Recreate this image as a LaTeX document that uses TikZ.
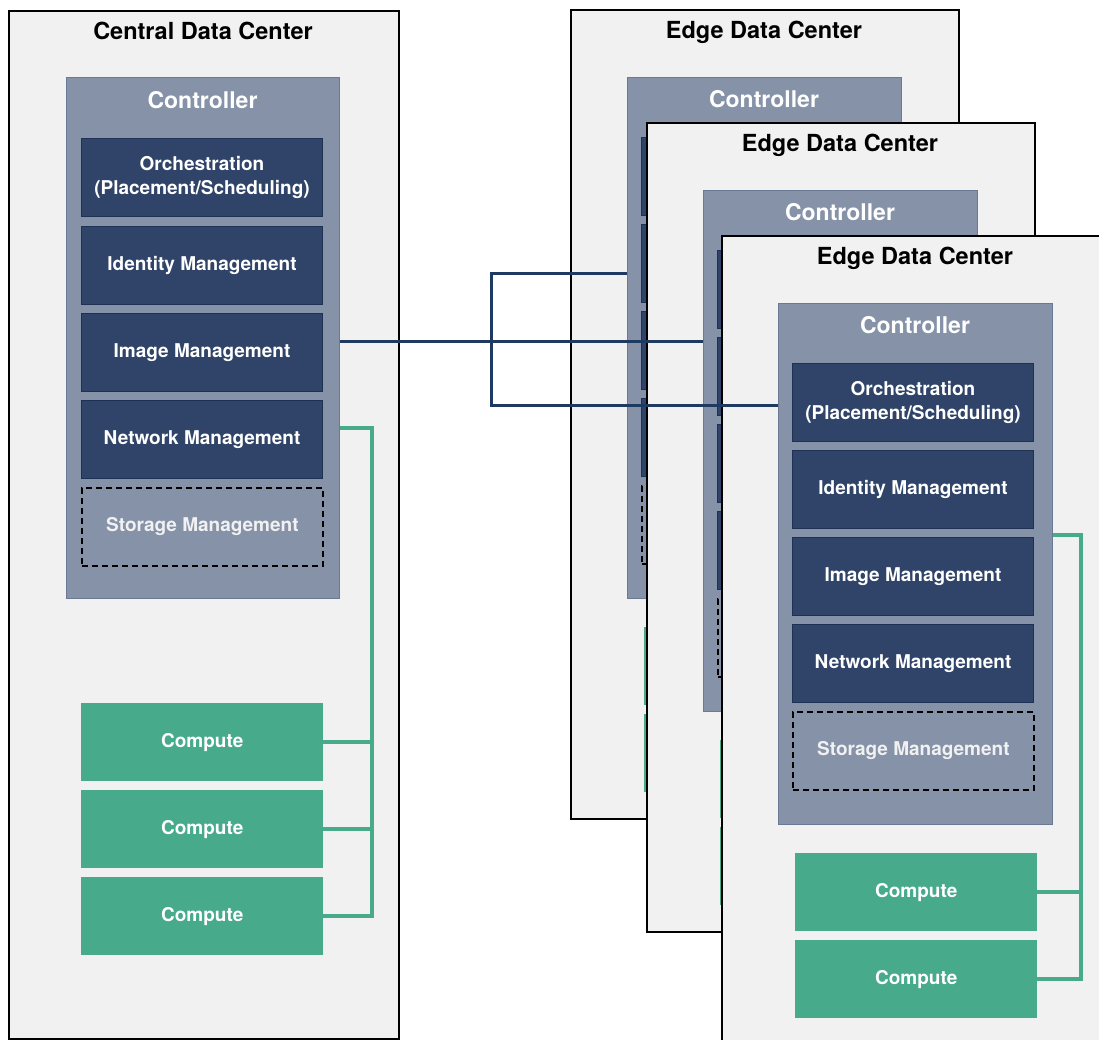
\documentclass[tikz,border=0pt]{standalone}
\usepackage{fontspec}
\setmainfont{TeX Gyre Heros}
\definecolor{dcGray}{HTML}{F1F1F1}
\definecolor{ctrlSlate}{HTML}{8592A8}
\definecolor{ctrlEdge}{HTML}{6B7A94}
\definecolor{mgmtNavy}{HTML}{2F4468}
\definecolor{mgmtEdge}{HTML}{1E3152}
\definecolor{computeGreen}{HTML}{47AA8A}
\definecolor{linkNavy}{HTML}{1F3A60}
\usepackage{tikz}
\usetikzlibrary{calc,positioning}

\begin{document}
\begin{tikzpicture}[x=1pt, y=-1pt,
  dcbox/.style={draw=black, fill=dcGray, line width=1.8pt, anchor=north west, minimum width=388pt, minimum height=809pt},
  dctitle/.style={anchor=base, font=\fontsize{23.5}{27}\selectfont\bfseries},
  ctrlbox/.style={draw=ctrlEdge, fill=ctrlSlate, line width=1pt, anchor=north west, minimum width=273pt, minimum height=521pt},
  ctrltitle/.style={text=white, font=\fontsize{23}{27}\selectfont\bfseries},
  mgmtbox/.style={draw=mgmtEdge, fill=mgmtNavy, line width=1pt, anchor=north west, minimum width=241pt, minimum height=78pt,
    text=white, align=center, font=\fontsize{19}{24}\selectfont\bfseries},
  storebox/.style={mgmtbox, draw=black, fill=ctrlSlate, dashed, dash pattern=on 6pt off 4pt, line width=1.8pt, text=dcGray},
  computebox/.style={fill=computeGreen, anchor=north west, minimum width=242pt, minimum height=78pt,
    text=white, font=\fontsize{19}{24}\selectfont\bfseries},
  navylink/.style={draw=linkNavy, line width=3pt},
  greenlink/.style={draw=computeGreen, line width=3.5pt}]
  \clip (0,0) rectangle (1099,1040);
  \fill[white] (0,0) rectangle (1099,1040);

  % central data center
  \node[dcbox, minimum width=390pt, minimum height=1028pt] (c-dc) at (8,10) {};
  \node[dctitle] (c-title) at (203,40) {Central Data Center};
  \node[ctrlbox] (c-ctrl) at (66,77) {};
  \node[ctrltitle] (c-ctrltitle) at (202.5,100) {Controller};
  \node[mgmtbox] (c-orch) at (81,138) {Orchestration\\(Placement/Scheduling)};
  \node[mgmtbox] (c-ident) at (81,226) {Identity Management};
  \node[mgmtbox] (c-image) at (81,313) {Image Management};
  \node[mgmtbox] (c-net) at (81,400) {Network Management};
  \node[storebox] (c-store) at (81,487) {Storage Management};
  \node[computebox] (c-comp1) at (81,703) {Compute};
  \node[computebox] (c-comp2) at (81,790) {Compute};
  \node[computebox] (c-comp3) at (81,877) {Compute};
  \coordinate (c-bus) at (372,428);
  \draw[greenlink] (c-bus -| c-ctrl.east) -- (c-bus) |- (c-comp3.east);
  \draw[greenlink] (c-comp1.east) -- (c-comp1.east -| c-bus);
  \draw[greenlink] (c-comp2.east) -- (c-comp2.east -| c-bus);

  % edge data center 1 (mostly hidden)
  \begin{scope}[shift={(570,9)}]
    \node[dcbox] (e1-dc) at (0,0) {};
    \node[dctitle] (e1-title) at (194,30) {Edge Data Center};
    \node[ctrlbox, minimum width=274pt] (e1-ctrl) at (57,68) {};
    \node[ctrltitle] (e1-ctrltitle) at (194,90) {Controller};
    \node[mgmtbox] (e1-orch) at (71,128) {};
    \node[mgmtbox] (e1-ident) at (71,215) {};
    \node[mgmtbox] (e1-image) at (71,302) {};
    \node[mgmtbox] (e1-net) at (71,389) {};
    \node[storebox] (e1-store) at (71,476) {};
    \node[computebox] (e1-comp1) at (74,618) {};
    \node[computebox] (e1-comp2) at (74,705) {};
  \end{scope}

  % edge data center 2 (mostly hidden)
  \begin{scope}[shift={(646,122)}]
    \node[dcbox] (e2-dc) at (0,0) {};
    \node[dctitle] (e2-title) at (194,30) {Edge Data Center};
    \node[ctrlbox, minimum width=274pt] (e2-ctrl) at (57,68) {};
    \node[ctrltitle] (e2-ctrltitle) at (194,90) {Controller};
    \node[mgmtbox] (e2-orch) at (71,128) {};
    \node[mgmtbox] (e2-ident) at (71,215) {};
    \node[mgmtbox] (e2-image) at (71,302) {};
    \node[mgmtbox] (e2-net) at (71,389) {};
    \node[storebox] (e2-store) at (71,476) {};
    \node[computebox] (e2-comp1) at (74,618) {};
    \node[computebox] (e2-comp2) at (74,705) {};
  \end{scope}

  % edge data center 3
  \begin{scope}[shift={(721,235)}]
    \node[dcbox] (e3-dc) at (0,0) {};
    \node[dctitle] (e3-title) at (194,30) {Edge Data Center};
    \node[ctrlbox, minimum width=274pt] (e3-ctrl) at (57,68) {};
    \node[ctrltitle] (e3-ctrltitle) at (194,90) {Controller};
    \node[mgmtbox] (e3-orch) at (71,128) {Orchestration\\(Placement/Scheduling)};
    \node[mgmtbox] (e3-ident) at (71,215) {Identity Management};
    \node[mgmtbox] (e3-image) at (71,302) {Image Management};
    \node[mgmtbox] (e3-net) at (71,389) {Network Management};
    \node[storebox] (e3-store) at (71,476) {Storage Management};
    \node[computebox] (e3-comp1) at (74,618) {Compute};
    \node[computebox] (e3-comp2) at (74,705) {Compute};
    \coordinate (e3-bus) at (360,300);
    \draw[greenlink] (e3-bus -| e3-ctrl.east) -- (e3-bus) |- (e3-comp2.east);
    \draw[greenlink] (e3-comp1.east) -- (e3-comp1.east -| e3-bus);
  \end{scope}

  % links between controllers
  \coordinate (lk-top) at (491,274);
  \coordinate (lk-mid) at (491,341);
  \coordinate (lk-bot) at (491,405);
  \draw[navylink] (lk-mid -| c-ctrl.east) -- (lk-mid -| e2-ctrl.west);
  \draw[navylink] (lk-top -| e1-ctrl.west) -- (lk-top) -- (lk-bot) -- (lk-bot -| e3-ctrl.west);
\end{tikzpicture}
\end{document}
